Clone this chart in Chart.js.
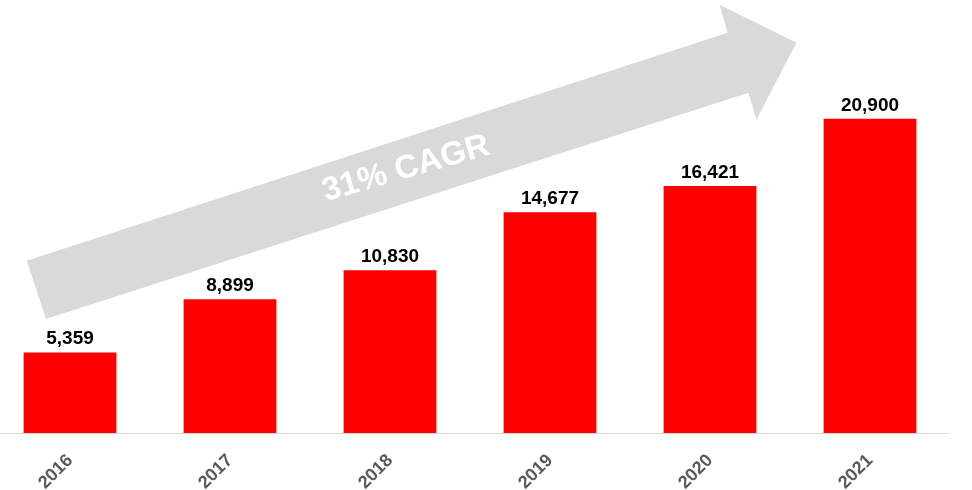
<!DOCTYPE html>
<html>
<head>
<meta charset="utf-8">
<script src="https://cdn.jsdelivr.net/npm/chart.js@4.4.0/dist/chart.umd.min.js"></script>
<style>
  html, body { margin:0; padding:0; background:#fff; overflow:hidden; }
  #wrap { position:absolute; left:-10px; top:0; width:960px; height:490px; }
</style>
</head>
<body>
<div id="wrap"><canvas id="c"></canvas></div>
<script>
const categories = ["2016", "2017", "2018", "2019", "2020", "2021"];
const revenue = [5359, 8899, 10830, 14677, 16421, 20900];
const yMin = 0;
const yMax = 28800;
const arrowLabel = "31% CAGR";
// arrow outline in scale units: [category index, value]
const arrowX = [-0.27, 4.11, 4.06, 4.54, 4.29, 4.24, -0.15];
const arrowY = [11450, 26620, 28490, 25960, 20830, 22630, 7590];
const arrowLabelPos = [2.1, 17570];

const arrowPlugin = {
  id: 'arrow',
  beforeDatasetsDraw(chart) {
    const {ctx, scales:{x, y}} = chart;
    ctx.save();
    ctx.beginPath();
    arrowX.forEach((v, i) => {
      const px = x.getPixelForValue(v), py = y.getPixelForValue(arrowY[i]);
      if (i === 0) ctx.moveTo(px, py); else ctx.lineTo(px, py);
    });
    ctx.closePath();
    ctx.fillStyle = '#d9d9d9';
    ctx.fill();
    const tx = x.getPixelForValue(arrowLabelPos[0]);
    const ty = y.getPixelForValue(arrowLabelPos[1]);
    ctx.translate(tx, ty);
    ctx.rotate(-16 * Math.PI / 180);
    ctx.fillStyle = '#ffffff';
    ctx.font = 'bold 33px "Liberation Sans", Arial, sans-serif';
    ctx.textAlign = 'center';
    ctx.textBaseline = 'middle';
    ctx.fillText(arrowLabel, 0, 0);
    ctx.restore();
  }
};

const labelPlugin = {
  id: 'valueLabels',
  afterDatasetsDraw(chart) {
    const {ctx} = chart;
    const meta = chart.getDatasetMeta(0);
    ctx.save();
    ctx.fillStyle = '#000';
    ctx.font = 'bold 19px "Liberation Sans", Arial, sans-serif';
    ctx.textAlign = 'center';
    ctx.textBaseline = 'alphabetic';
    meta.data.forEach((bar, i) => {
      ctx.fillText(revenue[i].toLocaleString('en-US'), bar.x, bar.y - 8);
    });
    ctx.restore();
  }
};

new Chart(document.getElementById('c'), {
  type: 'bar',
  data: {
    labels: categories,
    datasets: [{
      data: revenue,
      backgroundColor: '#ff0000',
      barPercentage: 0.58,
      categoryPercentage: 1.0
    }]
  },
  options: {
    responsive: true,
    maintainAspectRatio: false,
    animation: false,
    layout: { padding: 0 },
    plugins: { legend: { display:false }, tooltip: { enabled:false } },
    scales: {
      x: {
        grid: { display:false },
        border: { display:true, color:'#d9d9d9', width:1 },
        ticks: {
          minRotation:45, maxRotation:45,
          padding: 9,
          color:'#595959',
          font: { family:'"Liberation Sans", Arial, sans-serif', weight:'bold', size:18 }
        },
        afterFit(scale) { scale.height = 57; }
      },
      y: {
        display:false,
        min: yMin,
        max: yMax
      }
    }
  },
  plugins: [arrowPlugin, labelPlugin]
});
</script>
</body>
</html>
